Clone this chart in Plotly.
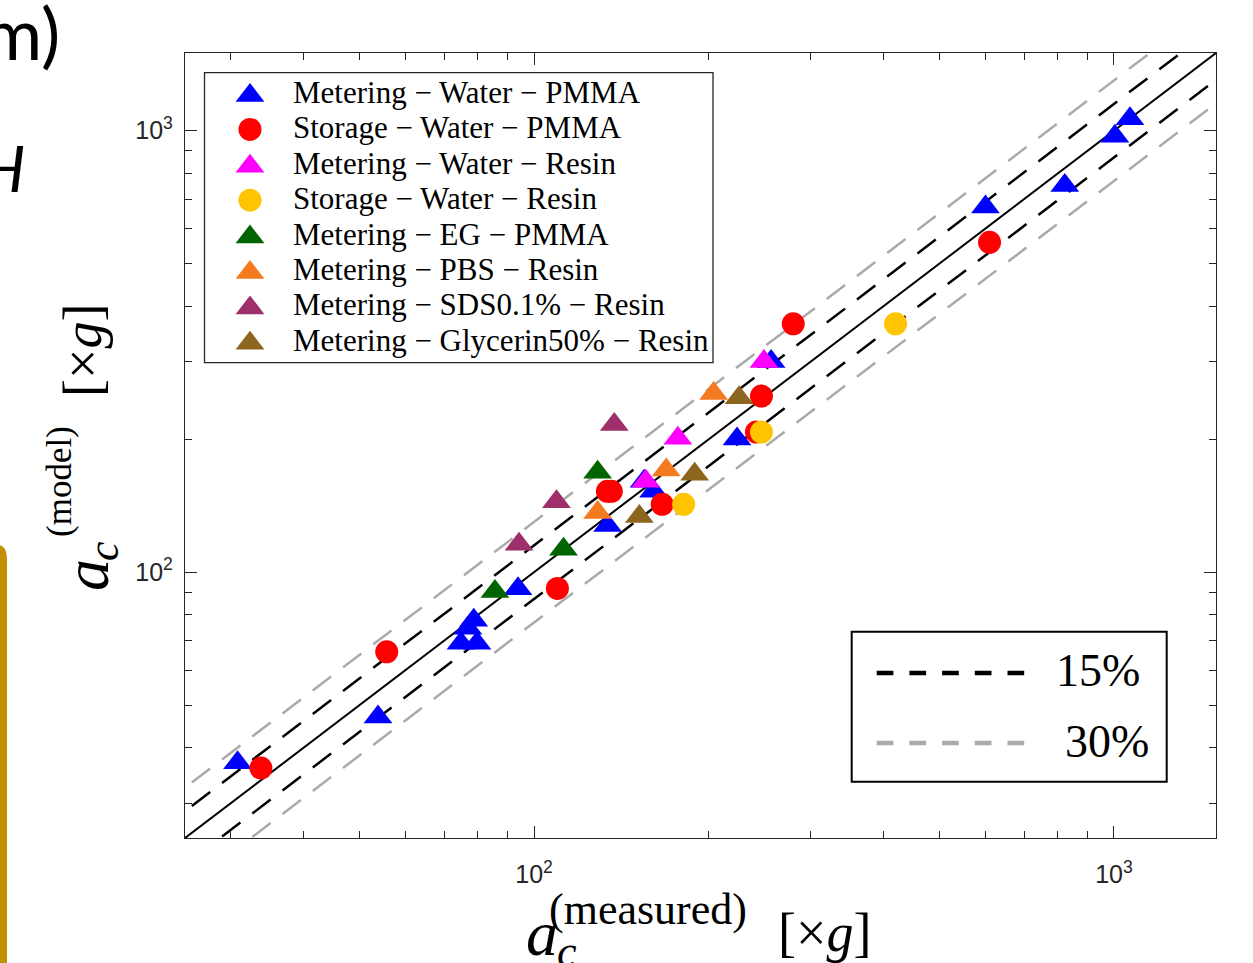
import math
import plotly.graph_objects as go

# ---------------- data ----------------
# Metering - Water - PMMA (blue triangles)
mwp_x = [30.8, 53.8, 74.8, 76.9, 78.7, 79.7, 93.8, 133.9, 154.8, 160.7, 223.9, 256.3, 600.5, 822.8, 1004, 1066]
mwp_y = [37.0, 47.0, 69.0, 74.7, 77.8, 69.0, 91.7, 127.6, 160.7, 152.5, 200.3, 300.1, 672, 752, 972, 1064]
# Storage - Water - PMMA (red circles)
swp_x = [33.8, 55.7, 109.7, 133.8, 135.9, 166.3, 241.8, 246.7, 279.9, 610.3]
swp_y = [36.0, 66.0, 91.9, 152.5, 152.5, 142.5, 207.7, 250.6, 365.3, 558.8]
# Metering - Water - Resin (magenta triangles)
mwr_x = [155.8, 177.0, 249.2]
mwr_y = [160.7, 201.0, 300.1]
# Storage - Water - Resin (yellow circles)
swr_x = [181.1, 246.7, 420.2]
swr_y = [142.5, 207.7, 365.3]
# Metering - EG - PMMA (green triangles)
meg_x = [85.6, 112.4, 128.7]
meg_y = [90.4, 112.7, 168.4]
# Metering - PBS - Resin (orange triangles)
mpbs_x = [128.7, 169.0, 204.0]
mpbs_y = [136.5, 170.4, 254.1]
# Metering - SDS0.1% - Resin (purple triangles)
msds_x = [94.2, 109.3, 137.5]
msds_y = [115.7, 144.5, 216.2]
# Metering - Glycerin50% - Resin (brown triangles)
mgly_x = [151.9, 189.2, 225.7]
mgly_y = [133.7, 166.6, 248.5]

series_names = [
    "Metering − Water − PMMA",
    "Storage − Water − PMMA",
    "Metering − Water − Resin",
    "Storage − Water − Resin",
    "Metering − EG − PMMA",
    "Metering − PBS − Resin",
    "Metering − SDS0.1% − Resin",
    "Metering − Glycerin50% − Resin",
]
series_x = [mwp_x, swp_x, mwr_x, swr_x, meg_x, mpbs_x, msds_x, mgly_x]
series_y = [mwp_y, swp_y, mwr_y, swr_y, meg_y, mpbs_y, msds_y, mgly_y]

# error bands (y = x * (1 + tol) and y = x / (1 + tol))
tolerances = [0.15, 0.30]
tolerance_labels = ["15%", "30%"]

axis_range = [25, 1500]
major_ticks = [100, 1000]
major_tick_text = ["10<sup>2</sup>", "10<sup>3</sup>"]
minor_ticks = [30, 40, 50, 60, 70, 80, 90, 200, 300, 400, 500, 600, 700, 800, 900]

# ---------------- styles ----------------
series_colors = ["#0000FF", "#FF0000", "#FF00FF", "#FFC400", "#006400", "#F47A20", "#9E2F6B", "#8E651E"]
series_symbols = ["triangle-up", "circle", "triangle-up", "circle", "triangle-up", "triangle-up", "triangle-up", "triangle-up"]
TRI_SIZE, CIR_SIZE = 25, 23
band_colors = ["black", "#AAAAAA"]
AXC = "#262626"
SERIF = "Liberation Serif"
SANS = "Liberation Sans"

W, H = 1253, 963
ML, MR, MT, MB = 185, 37, 53, 125
PW, PH = W - ML - MR, H - MT - MB


def fx(px):
    return (px - ML) / PW


def fy(py):
    return (H - MB - py) / PH


fig = go.Figure()

# reference lines through the library's log axes
ref_x = [axis_range[0] / 2, axis_range[1] * 2]
fig.add_trace(go.Scatter(x=ref_x, y=ref_x, mode="lines",
                         line=dict(color="black", width=2), showlegend=False, hoverinfo="skip"))
for tol, col in zip(tolerances, band_colors):
    for fac in (1 + tol, 1 / (1 + tol)):
        fig.add_trace(go.Scatter(x=ref_x, y=[v * fac for v in ref_x], mode="lines",
                                 line=dict(color=col, width=2.5, dash="23px,15px"),
                                 showlegend=False, hoverinfo="skip"))

for name, xs, ys, col, sym in zip(series_names, series_x, series_y, series_colors, series_symbols):
    fig.add_trace(go.Scatter(
        x=xs, y=ys, mode="markers", name=name, showlegend=False,
        marker=dict(symbol=sym, color=col, size=TRI_SIZE if sym != "circle" else CIR_SIZE,
                    opacity=1, line=dict(width=0)),
    ))

# ---------------- manual legend (series) ----------------
shapes = []
annotations = []
shapes.append(dict(type="rect", xref="paper", yref="paper",
                   x0=fx(204.5), x1=fx(713), y0=fy(72.7), y1=fy(362.7),
                   line=dict(color=AXC, width=1.3), fillcolor="white", layer="below"))
row0, pitch = 92.5, 35.4
leg_mx, leg_my, leg_col, leg_sym, leg_size = [], [], [], [], []
for k, (name, col, sym) in enumerate(zip(series_names, series_colors, series_symbols)):
    ry = row0 + pitch * k
    leg_mx.append(fx(250))
    leg_my.append(fy(ry + (3 if sym != "circle" else 1.5)))
    leg_col.append(col)
    leg_sym.append(sym)
    leg_size.append(TRI_SIZE if sym != "circle" else CIR_SIZE)
    annotations.append(dict(text=name, x=fx(291), y=fy(ry), xref="paper", yref="paper",
                            xanchor="left", yanchor="middle", showarrow=False,
                            font=dict(family=SERIF, size=31, color="black")))
fig.add_trace(go.Scatter(x=leg_mx, y=leg_my, xaxis="x2", yaxis="y2", mode="markers",
                         marker=dict(symbol=leg_sym, color=leg_col, size=leg_size,
                                     opacity=1, line=dict(width=0)),
                         showlegend=False, hoverinfo="skip"))

# ---------------- manual legend (tolerance bands) ----------------
shapes.append(dict(type="rect", xref="paper", yref="paper",
                   x0=fx(851.7), x1=fx(1166.7), y0=fy(631.7), y1=fy(781.7),
                   line=dict(color="black", width=2), fillcolor="white", layer="below"))
for k, (lab, col) in enumerate(zip(tolerance_labels, band_colors)):
    ly = 673 + 70 * k
    shapes.append(dict(type="line", xref="paper", yref="paper",
                       x0=fx(876.7), x1=fx(1025), y0=fy(ly), y1=fy(ly),
                       line=dict(color=col, width=4.3, dash="16.7px,16px")))
    annotations.append(dict(text=lab, x=fx(1054 if k == 0 else 1063), y=fy(670 + 71 * k),
                            xref="paper", yref="paper", xanchor="left", yanchor="middle",
                            showarrow=False, font=dict(family=SERIF, size=46, color="black")))

# ---------------- axis titles (LaTeX-like, built from pieces) ----------------
def ann(text, px, py, size, xanchor="center", yanchor="middle", angle=0, family=SERIF, color="black"):
    return dict(text=text, x=fx(px), y=fy(py), xref="paper", yref="paper", showarrow=False,
                xanchor=xanchor, yanchor=yanchor, textangle=angle,
                font=dict(family=family, size=size, color=color))

annotations += [
    ann("<i>a</i>", 524, 933, 64, xanchor="left"),
    ann("<i>c</i>", 555, 951, 44, xanchor="left"),
    ann("(measured)", 648, 909, 44),
    ann("[×<i>g</i>]", 824, 933, 54),
    ann("<i>a</i>", 86, 575, 64, angle=-90),
    ann("<i>c</i>", 103, 551, 44, angle=-90),
    ann("(model)", 59, 482, 35, angle=-90),
    ann("[×<i>g</i>]", 83, 351, 54, angle=-90),
    # fragments of neighbouring slide content visible at the left edge
    ann("m)", 62, 32, 72, xanchor="right", family="Lato"),
    ann("<i>H</i>", 27, 168, 64, xanchor="right", family="Lato"),
]

# gold border fragment at the left edge
gx0, gx1, gtop, gbot = fx(-10), fx(7), fy(545), fy(975)
gmid = fy(560)
shapes.append(dict(type="path", xref="paper", yref="paper",
                   path=f"M {gx0},{gbot} L {gx0},{gtop} L {fx(-2)},{gtop} Q {gx1},{gtop} {gx1},{gmid} L {gx1},{gbot} Z",
                   fillcolor="#C09000", line=dict(width=0)))

axis_common = dict(
    type="log", range=[math.log10(axis_range[0]), math.log10(axis_range[1])],
    tickvals=major_ticks, ticktext=major_tick_text,
    ticks="inside", ticklen=12, tickwidth=1.3, tickcolor=AXC,
    showline=True, linecolor=AXC, linewidth=1.3, mirror="ticks",
    showgrid=False, zeroline=False,
    tickfont=dict(family=SANS, size=25, color=AXC),
    minor=dict(tickvals=minor_ticks, ticks="inside", ticklen=7, tickwidth=1.3,
               tickcolor=AXC, showgrid=False),
)

fig.update_layout(
    width=W, height=H,
    margin=dict(l=ML, r=MR, t=MT, b=MB, pad=0),
    paper_bgcolor="white", plot_bgcolor="white",
    showlegend=False,
    xaxis=dict(**axis_common, ticklabelstandoff=14),
    yaxis=dict(**axis_common, ticklabelstandoff=6),
    xaxis2=dict(overlaying="x", anchor="y2", range=[0, 1], visible=False, fixedrange=True),
    yaxis2=dict(overlaying="y", anchor="x2", range=[0, 1], visible=False, fixedrange=True),
    shapes=shapes,
    annotations=annotations,
)

fig.write_html("out.html", config={"displayModeBar": False},
               post_script="document.body.style.margin='0';document.body.style.overflow='hidden';")
